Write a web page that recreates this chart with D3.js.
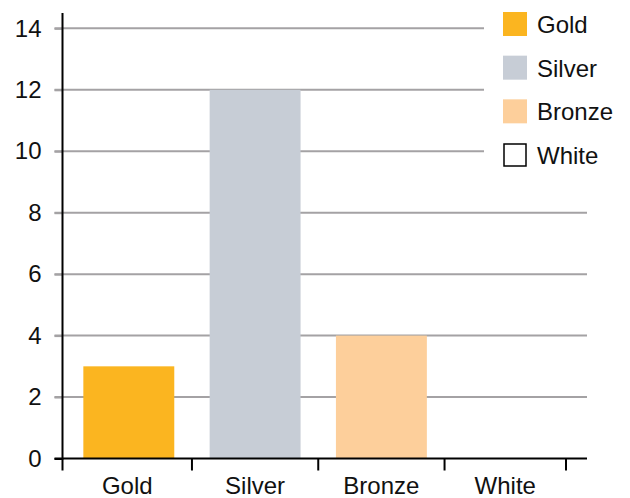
<!DOCTYPE html>
<html>
<head>
<meta charset="utf-8">
<script src="https://cdn.jsdelivr.net/npm/d3@7"></script>
<style>
  html, body { margin: 0; padding: 0; background: #fff; }
  svg { display: block; }
  text { font-family: "Liberation Sans", Arial, Helvetica, sans-serif; fill: #111; }
</style>
</head>
<body>
<svg id="chart" width="630" height="498"></svg>
<script>
const categories = ["Gold", "Silver", "Bronze", "White"];
const values = [3, 12, 4, 0];
const colors = ["#FBB520", "#C7CDD6", "#FDCF9B", "#FFFFFF"];
const yTicks = [0, 2, 4, 6, 8, 10, 12, 14];
const yMax = 14.5;

const svg = d3.select("#chart");
const mLeft = 62.5, mRight = 587, mTop = 13, mBottom = 458.5, xEnd = 566;

const x = d3.scaleBand().domain(categories).range([mLeft, 574]).paddingInner(0.28).paddingOuter(0.165);
const y = d3.scaleLinear().domain([0, yMax]).range([mBottom, mTop]);

// gridlines
svg.append("g").selectAll("line")
  .data(yTicks.filter(d => d > 0))
  .join("line")
  .attr("x1", mLeft - 8).attr("x2", mRight)
  .attr("y1", d => y(d)).attr("y2", d => y(d))
  .attr("stroke", "#a4a2a4").attr("stroke-width", 2);

// bars
svg.append("g").selectAll("rect")
  .data(categories)
  .join("rect")
  .attr("x", d => x(d))
  .attr("width", x.bandwidth())
  .attr("y", (d, i) => y(values[i]))
  .attr("height", (d, i) => y(0) - y(values[i]))
  .attr("fill", (d, i) => colors[i]);

// y axis
const yAxis = svg.append("g").attr("transform", `translate(${mLeft},0)`)
  .call(d3.axisLeft(y).tickValues(yTicks).tickSize(8).tickPadding(13).tickFormat(d3.format("d")));
yAxis.select(".domain").remove();
yAxis.selectAll(".tick line").attr("stroke", d => d === 0 ? "#000" : "#a4a2a4").attr("stroke-width", 2);
yAxis.selectAll(".tick text").style("font-size", "24px").style("font-family", "Liberation Sans, Arial, sans-serif").attr("fill", "#111");
svg.append("line").attr("x1", mLeft).attr("x2", mLeft).attr("y1", mTop).attr("y2", mBottom + 1)
  .attr("stroke", "#000").attr("stroke-width", 2);

// x axis
const step = x.step();
svg.append("line").attr("x1", mLeft - 8).attr("x2", mRight).attr("y1", mBottom).attr("y2", mBottom)
  .attr("stroke", "#000").attr("stroke-width", 2);
const edges = [mLeft].concat(categories.slice(0, -1).map(c => x(c) + x.bandwidth() + x.paddingInner() * step / 2)).concat([xEnd]);
svg.append("g").selectAll("line")
  .data(edges)
  .join("line")
  .attr("x1", d => d).attr("x2", d => d)
  .attr("y1", mBottom).attr("y2", mBottom + 12)
  .attr("stroke", "#000").attr("stroke-width", 2);
svg.append("g").selectAll("text")
  .data(categories)
  .join("text")
  .attr("x", (d, i) => (edges[i] + edges[i + 1]) / 2)
  .attr("y", 494)
  .attr("text-anchor", "middle")
  .style("font-size", "24px")
  .text(d => d);

// legend (with white background covering gridlines)
svg.append("rect").attr("x", 484).attr("y", 0).attr("width", 146).attr("height", 178).attr("fill", "#fff");
const lg = svg.append("g").attr("transform", "translate(503,12)");
const ly = d3.scalePoint().domain(categories).range([0, 131]);
const item = lg.selectAll("g").data(categories).join("g")
  .attr("transform", d => `translate(0,${ly(d)})`);
item.append("rect")
  .attr("x", (d, i) => i === 3 ? 1 : 0).attr("y", (d, i) => i === 3 ? 1 : 0)
  .attr("width", (d, i) => i === 3 ? 22 : 24).attr("height", (d, i) => i === 3 ? 22 : 24)
  .attr("fill", (d, i) => colors[i])
  .attr("stroke", (d, i) => i === 3 ? "#000" : "none")
  .attr("stroke-width", 1.5);
item.append("text")
  .attr("x", 34).attr("y", 21)
  .style("font-size", "24px")
  .text(d => d);
</script>
</body>
</html>
